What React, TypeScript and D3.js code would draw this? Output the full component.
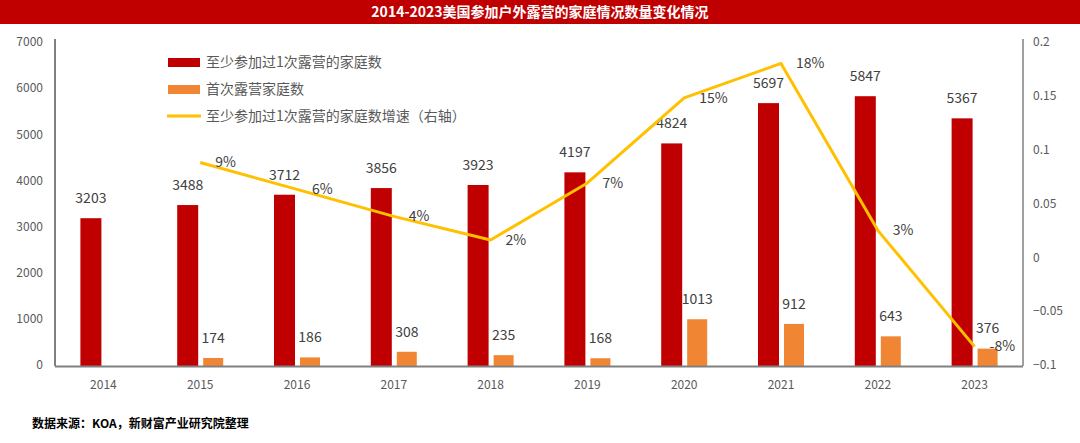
import React from "react";
import * as d3 from "d3";

const years = ["2014","2015","2016","2017","2018","2019","2020","2021","2022","2023"];
const atLeastOnce = [3203,3488,3712,3856,3923,4197,4824,5697,5847,5367];
const firstTime: (number|null)[] = [null,174,186,308,235,168,1013,912,643,376];
const growth: (number|null)[] = [null,0.089,0.064,0.039,0.017,0.070,0.149,0.181,0.026,-0.082];
const growthLabels = ["","9%","6%","4%","2%","7%","15%","18%","3%","-8%"];
const leftTicks = [0,1000,2000,3000,4000,5000,6000,7000];
const rightTicks = [-0.1,-0.05,0,0.05,0.1,0.15,0.2];
const legendItems = ["至少参加过1次露营的家庭数","首次露营家庭数","至少参加过1次露营的家庭数增速（右轴）"];
const title = "2014-2023美国参加户外露营的家庭情况数量变化情况";
const source = "数据来源：KOA，新财富产业研究院整理";

const W = 1080, H = 443;
const left = 55, right = 1023, top = 43, bottom = 366;
const RED = "#C00000", ORANGE = "#F08634", YELLOW = "#FFC000";
const font = "'Noto Sans CJK SC', 'Noto Sans', sans-serif";

export default function App() {
  const x = d3.scaleBand().domain(years).range([left, right]).paddingInner(0).paddingOuter(0);
  const yL = d3.scaleLinear().domain([0, 7000]).range([bottom, top]);
  const yR = d3.scaleLinear().domain([-0.1, 0.2]).range([bottom, top]);
  const cx = (y: string) => (x(y) as number) + x.bandwidth() / 2;
  const lineData = years.map((y, i) => ({ y, g: growth[i] })).filter(d => d.g !== null) as {y:string; g:number}[];
  const line = d3.line<{y:string; g:number}>().x(d => cx(d.y)).y(d => yR(d.g));
  const bw = 21;

  return (
    <svg width={W} height={H} style={{ position: "absolute", left: 0, top: 0, background: "#fff" }} fontFamily={font}>
      <rect x={0} y={0} width={W} height={24} fill={RED} />
      <text x={W / 2} y={13} textAnchor="middle" dominantBaseline="middle" fill="#fff" fontSize={14} fontWeight="bold">{title}</text>

      {leftTicks.map(t => (
        <text key={"l" + t} x={43} y={yL(t)} textAnchor="end" dominantBaseline="middle" fontSize={12} fill="#595959">{t}</text>
      ))}
      {rightTicks.map(t => (
        <text key={"r" + t} x={1033} y={yR(t)} textAnchor="start" dominantBaseline="middle" fontSize={12} fill="#595959">{d3.format("")(+t.toFixed(2))}</text>
      ))}

      {years.map((y, i) => (
        <g key={y}>
          <rect x={cx(y) - 23} y={yL(atLeastOnce[i])} width={bw} height={bottom - yL(atLeastOnce[i])} fill={RED} />
          <text x={cx(y) - 12.5} y={yL(atLeastOnce[i]) - 19} textAnchor="middle" dominantBaseline="middle" fontSize={14} fill="#404040">{atLeastOnce[i]}</text>
          {firstTime[i] !== null && (
            <>
              <rect x={cx(y) + 3} y={yL(firstTime[i] as number)} width={20} height={bottom - yL(firstTime[i] as number)} fill={ORANGE} />
              <text x={cx(y) + 13} y={yL(firstTime[i] as number) - 19} textAnchor="middle" dominantBaseline="middle" fontSize={14} fill="#404040">{firstTime[i]}</text>
            </>
          )}
          <text x={cx(y)} y={386} textAnchor="middle" dominantBaseline="middle" fontSize={12} fill="#595959">{y}</text>
        </g>
      ))}

      <line x1={left} x2={left} y1={top - 4} y2={bottom} stroke="#000" strokeWidth={1} />
      <line x1={right} x2={right} y1={top - 4} y2={bottom} stroke="#404040" strokeWidth={1} />
      <line x1={left} x2={right} y1={bottom + 0.5} y2={bottom + 0.5} stroke="#808080" strokeWidth={2} />

      <path d={line(lineData) || ""} fill="none" stroke={YELLOW} strokeWidth={3} strokeLinejoin="round" />
      {years.map((y, i) => growth[i] !== null && (
        <text key={"g" + y} x={cx(y) + 15} y={yR(growth[i] as number) + 1} textAnchor="start" dominantBaseline="middle" fontSize={14} fill="#404040">{growthLabels[i]}</text>
      ))}

      <rect x={168} y={58} width={32} height={9} fill={RED} />
      <rect x={168} y={85} width={32} height={9} fill={ORANGE} />
      <line x1={167} x2={201} y1={116} y2={116} stroke={YELLOW} strokeWidth={3} />
      {legendItems.map((t, i) => (
        <text key={t} x={206} y={63 + i * 27} dominantBaseline="middle" fontSize={14} fill="#595959">{t}</text>
      ))}

      <text x={32} y={425} dominantBaseline="middle" fontSize={12} fontWeight="bold" fill="#000">{source}</text>
    </svg>
  );
}
